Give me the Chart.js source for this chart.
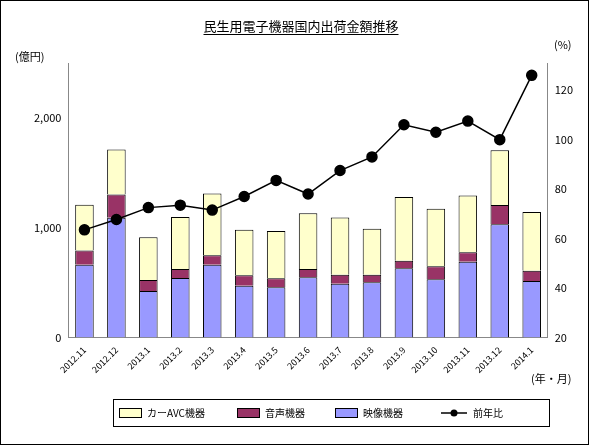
<!DOCTYPE html>
<html><head><meta charset="utf-8">
<script src="https://cdn.jsdelivr.net/npm/chart.js@4.4.0/dist/chart.umd.min.js"></script>
<style>
body{margin:0;background:#fff}
#wrap{position:relative;width:587px;height:443px;border:1px solid #000}
</style></head><body>
<div id="wrap"><canvas id="c"></canvas></div>
<script>
const months = ["2012.11","2012.12","2013.1","2013.2","2013.3","2013.4","2013.5","2013.6","2013.7","2013.8","2013.9","2013.10","2013.11","2013.12","2014.1"];
const video = [663,1090,423,542,663,470,458,548,489,502,629,530,689,1031,514];
const audio = [128,212,100,81,85,97,81,75,81,68,69,118,87,175,93];
const carAvc = [417,411,390,473,563,414,430,508,523,421,582,523,517,498,536];
const yoy = [63.5,67.7,72.5,73.5,71.5,77,83.5,78,87.5,93,106,103,107.5,100,126];

const font = "'Noto Sans CJK JP', sans-serif";
Chart.defaults.font.family = font;
Chart.defaults.font.size = 11;
Chart.defaults.color = '#000';

const extras = {
  id: 'extras',
  afterDraw(chart) {
    const c = chart.ctx;
    c.save();
    c.fillStyle = '#000';
    c.font = "13px " + font;
    c.textAlign = 'center';
    c.fillText('民生用電子機器国内出荷金額推移', 300, 30);
    const w = c.measureText('民生用電子機器国内出荷金額推移').width;
    c.fillRect(300 - w / 2, 33, w, 1);
    c.font = "11px " + font;
    c.textAlign = 'left';
    c.fillText('(億円)', 14, 60);
    c.fillText('(%)', 553, 48);
    c.fillText('(年・月)', 530, 382);
    // legend
    c.strokeStyle = '#000';
    c.lineWidth = 1;
    c.strokeRect(112.5, 398.5, 436, 27);
    c.font = "10px " + font;
    c.textBaseline = 'middle';
    const items = [['カーAVC機器', '#FFFFCC', 118], ['音声機器', '#993366', 236], ['映像機器', '#9999FF', 334]];
    items.forEach(([t, col, x]) => {
      c.fillStyle = col;
      c.fillRect(x, 407, 22, 9);
      c.strokeRect(x + 0.5, 407.5, 22, 9);
      c.fillStyle = '#000';
      c.fillText(t, x + 28, 412);
    });
    c.beginPath();
    c.moveTo(440, 412); c.lineTo(466, 412);
    c.lineWidth = 1.5; c.stroke();
    c.beginPath(); c.arc(453, 412, 3.5, 0, Math.PI * 2); c.fill();
    c.fillText('前年比', 472, 412);
    c.restore();
  }
};

new Chart(document.getElementById('c'), {
  data: {
    labels: months,
    datasets: [
      {type: 'line', label: '前年比', data: yoy, yAxisID: 'y2', borderColor: '#000', backgroundColor: '#000',
       borderWidth: 1.5, pointRadius: 5, pointHoverRadius: 5, order: 0},
      {type: 'bar', label: '映像機器', data: video, backgroundColor: '#9999FF', borderColor: '#000', borderWidth: 1, stack: 's', barPercentage: 0.58, categoryPercentage: 1, order: 1},
      {type: 'bar', label: '音声機器', data: audio, backgroundColor: '#993366', borderColor: '#000', borderWidth: 1, stack: 's', barPercentage: 0.58, categoryPercentage: 1, order: 1},
      {type: 'bar', label: 'カーAVC機器', data: carAvc, backgroundColor: '#FFFFCC', borderColor: '#000', borderWidth: 1, stack: 's', barPercentage: 0.58, categoryPercentage: 1, order: 1}
    ]
  },
  options: {
    responsive: true,
    maintainAspectRatio: false,
    animation: false,
    layout: {padding: {top: 62, left: 30, right: 12, bottom: 66}},
    plugins: {
      tooltip: {enabled: false},
      legend: {display: false}
    },
    scales: {
      x: {
        stacked: true,
        grid: {display: false, drawTicks: true, tickLength: 4},
        border: {color: '#888'},
        ticks: {maxRotation: 45, minRotation: 45, font: {size: 9}}
      },
      y: {
        stacked: true, min: 0, max: 2500,
        grid: {display: false, tickLength: 4},
        border: {color: '#888'},
        afterBuildTicks: ax => { ax.ticks = [0, 1000, 2000].map(v => ({value: v})); },
        ticks: {callback: v => v.toLocaleString('en-US')}
      },
      y2: {
        position: 'right', min: 20, max: 131,
        grid: {display: false, tickLength: 4},
        border: {color: '#888'},
        afterBuildTicks: ax => { ax.ticks = [20, 40, 60, 80, 100, 120].map(v => ({value: v})); }
      }
    }
  },
  plugins: [extras]
});
</script>
</body></html>
